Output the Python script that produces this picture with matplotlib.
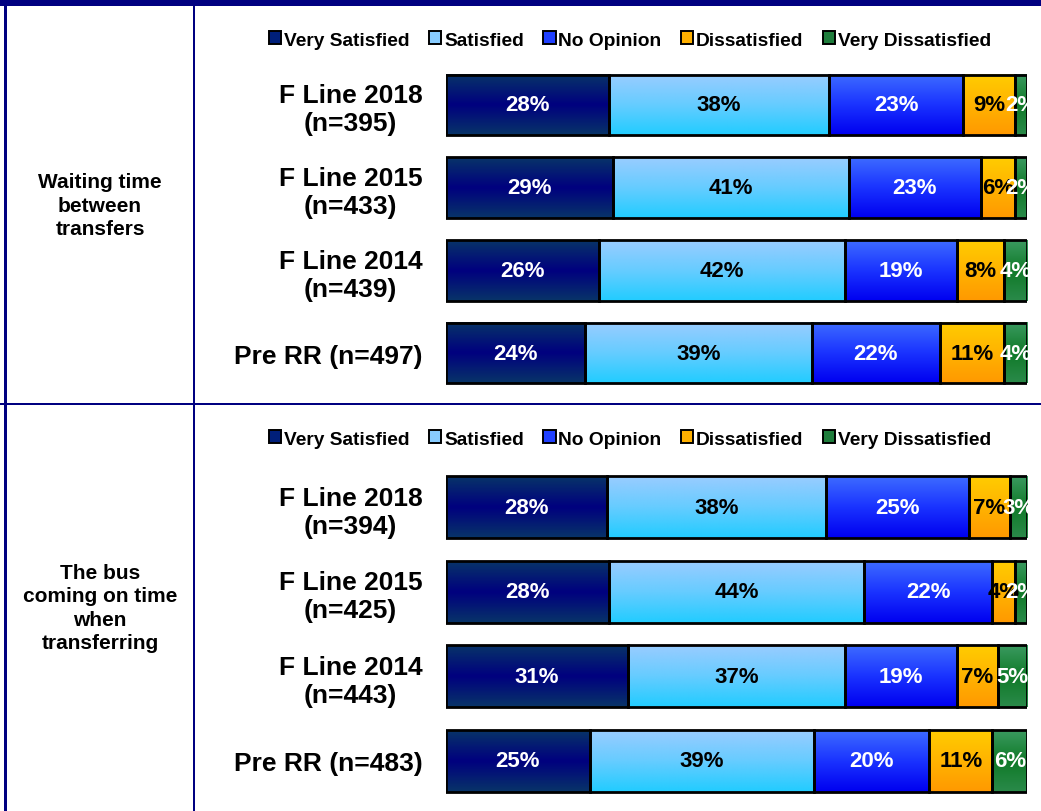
import matplotlib.pyplot as plt
from matplotlib.patches import Rectangle
from matplotlib.colors import LinearSegmentedColormap
import numpy as np

plt.rcParams['font.family'] = ['Liberation Sans', 'DejaVu Sans']

categories = ['Very Satisfied', 'Satisfied', 'No Opinion', 'Dissatisfied', 'Very Dissatisfied']
colors = ['#001f7a', '#88ccff', '#2040ff', '#ffb000', '#1f7d3c']
# top -> middle -> bottom shades, like the office-style gradient fills
gradients = [['#083468', '#00007f', '#083468'],
             ['#99ccff', '#66ccff', '#22ccff'],
             ['#3d6bff', '#1a33ff', '#0000f0'],
             ['#ffcc00', '#ffb300', '#ff9900'],
             ['#3a9a60', '#107a28', '#2a8a4a']]
text_colors = ['white', 'black', 'white', 'black', 'white']

topic_1 = 'Waiting time\nbetween\ntransfers'
rows_1 = ['F Line 2018\n(n=395)', 'F Line 2015\n(n=433)', 'F Line 2014\n(n=439)', 'Pre RR (n=497)']
values_1 = [[28, 38, 23, 9, 2],
            [29, 41, 23, 6, 2],
            [26, 42, 19, 8, 4],
            [24, 39, 22, 11, 4]]

topic_2 = 'The bus\ncoming on time\nwhen\ntransferring'
rows_2 = ['F Line 2018\n(n=394)', 'F Line 2015\n(n=425)', 'F Line 2014\n(n=443)', 'Pre RR (n=483)']
values_2 = [[28, 38, 25, 7, 3],
            [28, 44, 22, 4, 2],
            [31, 37, 19, 7, 5],
            [25, 39, 20, 11, 6]]

W, H = 1041, 812
fig = plt.figure(figsize=(W / 100, H / 100), dpi=100)
navy = '#000080'
cmaps = [LinearSegmentedColormap.from_list(f'g{k}', g) for k, g in enumerate(gradients)]
ramp = np.linspace(0, 1, 64).reshape(-1, 1)


def px_axes(x0, y0, x1, y1):
    # pixel box (top-left origin) -> figure axes
    return fig.add_axes([x0 / W, 1 - y1 / H, (x1 - x0) / W, (y1 - y0) / H])


def draw_panel(y_top, y_bot, cell_top, cell_bot, rows, values, topic, legend_y):
    ax = px_axes(446, y_top, 1027, y_bot)
    n = len(rows)
    h = 0.73
    for i, vals in enumerate(values):
        vals = np.array(vals, dtype=float)
        widths = vals / vals.sum() * 100
        left = 0
        for j, w in enumerate(widths):
            ax.imshow(ramp, cmap=cmaps[j], aspect='auto', interpolation='bilinear',
                      extent=[left, left + w, i + h / 2, i - h / 2], zorder=1)
            ax.barh(i, w, left=left, height=h, color='none',
                    edgecolor='black', linewidth=2.0, zorder=2)
            ax.text(left + w / 2, i, f'{int(vals[j])}%', ha='center', va='center',
                    color=text_colors[j], fontsize=16, fontweight='bold',
                    clip_on=False, zorder=3)
            left += w
    ax.set_xlim(0, 100)
    ax.set_ylim(n - 0.5, -0.5)
    ax.set_yticks(range(n))
    ax.set_yticklabels(rows, fontsize=19, fontweight='bold', ha='right',
                       linespacing=1.2)
    for lab in ax.get_yticklabels():
        lab.set_multialignment('center')
    ax.tick_params(axis='y', length=0, pad=17)
    ax.set_xticks([])
    for s in ax.spines.values():
        s.set_visible(False)
    ax.set_facecolor('none')

    fig.text(100 / W, 1 - ((cell_top + cell_bot) / 2) / H, topic, ha='center',
             va='center', fontsize=15, fontweight='bold', linespacing=1.3)

    handles = [Rectangle((0, 0), 1, 1, facecolor=c, edgecolor='black', linewidth=1.4)
               for c in colors]
    fig.legend(handles, categories, loc='center', ncol=5,
               bbox_to_anchor=(630 / W, 1 - legend_y / H), frameon=False,
               prop={'weight': 'bold', 'size': 13.8}, handlelength=0.65,
               handleheight=0.65, handletextpad=0.15, columnspacing=1.0)


draw_panel(64.5, 395.5, 7, 405, rows_1, values_1, topic_1, 41)
draw_panel(466, 804, 405, 812, rows_2, values_2, topic_2, 440)

# table grid
fig.add_artist(Rectangle((0, 1 - 7 / H), 1, 7 / H, transform=fig.transFigure,
                         facecolor=navy, edgecolor='none'))
fig.add_artist(Rectangle((4 / W, 0), 3 / W, 1, transform=fig.transFigure,
                         facecolor=navy, edgecolor='none'))
fig.add_artist(Rectangle((193 / W, 0), 2 / W, 1, transform=fig.transFigure,
                         facecolor=navy, edgecolor='none'))
fig.add_artist(Rectangle((0, 1 - 406 / H), 1, 2 / H, transform=fig.transFigure,
                         facecolor=navy, edgecolor='none'))

fig.savefig('out.png', dpi=100)
